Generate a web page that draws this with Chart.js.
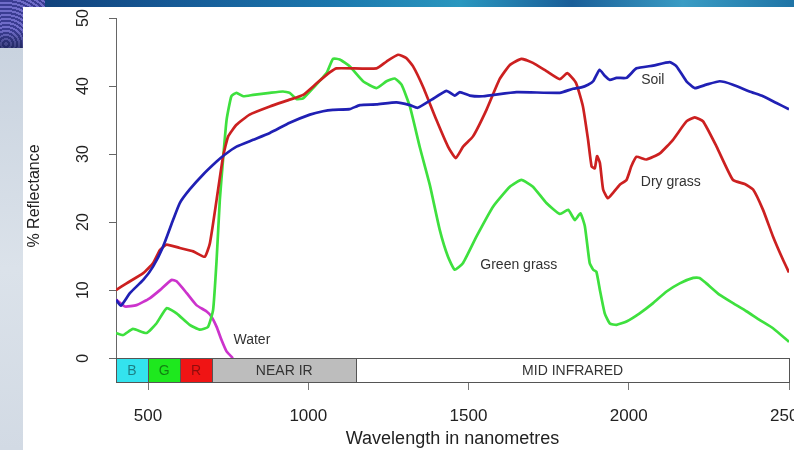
<!DOCTYPE html>
<html><head><meta charset="utf-8">
<script src="https://cdn.jsdelivr.net/npm/chart.js@4.4.1/dist/chart.umd.min.js"></script>
<style>
html,body{margin:0;padding:0;width:794px;height:450px;overflow:hidden;background:#fff;position:relative}
#topbar{position:absolute;left:0;top:0;width:794px;height:7px;background:linear-gradient(90deg,#0f3a74 0%,#165a96 22%,#1b77ad 42%,#2a97bf 58%,#1a5e98 72%,#3a9cc4 86%,#1f74a6 100%)}
#corner{position:absolute;left:0;top:0;width:45px;height:48px;background:repeating-radial-gradient(circle at 6px 44px,#6f6cc8 0 2px,#3a3c92 2px 4px),#3a3c92}
#corner2{position:absolute;left:0;top:30px;width:23px;height:18px;background:linear-gradient(180deg,rgba(20,30,70,0) 0%,rgba(20,30,70,0.6) 100%)}
#leftstrip{position:absolute;left:0;top:48px;width:23px;height:402px;background:linear-gradient(180deg,#c9d3df 0%,#dbe2ea 55%,#d2dae4 100%)}
#panel{position:absolute;left:23px;top:7px;right:0;bottom:0;background:#fff}
canvas{position:absolute;left:0;top:0}
</style></head>
<body>
<div id="topbar"></div><div id="corner"></div><div id="corner2"></div><div id="leftstrip"></div><div id="panel"></div>
<canvas id="c" width="830" height="450" style="width:830px;height:450px"></canvas>
<script>
// ---- data ----
const xTicks = [500, 1000, 1500, 2000, 2500];
const yTicks = [0, 10, 20, 30, 40, 50];

const soilWl  = [400,415,444,485,516,547,578,599,630,672,714,739,776,828,880,942,1005,1046,1077,1129,1161,1213,1275,1317,1341,1385,1431,1457,1473,1504,1545,1650,1785,1826,1852,1873,1889,1909,1925,1941,1962,1993,2024,2076,2128,2149,2180,2206,2242,2284,2325,2377,2419,2461,2500];
const soilPct = [8.6,7.7,9.6,11.5,13.5,16.4,20.3,22.8,24.8,27,28.9,29.9,31.1,32.1,33.1,34.6,35.8,36.3,36.5,36.6,37.2,37.3,37.6,37.2,36.8,38,39.3,38.6,39.1,38.6,38.5,39.1,39,39.6,39.8,40.2,40.7,42.4,41.5,40.9,41.2,41.2,42.6,43,43.5,42.9,40.7,39.7,40.2,40.7,40.2,39.2,38.5,37.5,36.6];

const dryWl  = [400,433,485,516,537,558,599,641,677,693,714,734,750,776,817,880,942,984,1026,1067,1088,1213,1244,1280,1306,1327,1358,1400,1436,1460,1483,1514,1556,1597,1629,1665,1701,1743,1785,1808,1835,1857,1873,1884,1894,1901,1910,1920,1935,1951,1972,1993,2008,2024,2055,2097,2138,2180,2206,2232,2274,2325,2362,2388,2419,2450,2481,2500];
const dryPct = [10,11,12.5,14,15.9,16.7,16.2,15.7,14.9,16.9,23.3,29.6,32.6,34.3,35.8,37,38,38.7,40.4,42,42.6,42.6,43.6,44.6,44.1,42.9,39.9,35,31.1,29.4,31.1,32.6,36.5,41,43.1,44,43.4,42.2,41,41.9,40.5,37,32.1,28.2,27.9,29.7,28.7,24.8,23.5,24.3,25.5,26.2,28.2,29.6,29.2,30.1,32.1,34.8,35.4,34.8,31.1,26.2,25.6,24.8,21.8,17.9,14.5,12.6];

const greenWl  = [400,422,453,495,526,558,589,630,661,687,703,714,724,734,745,760,776,797,828,880,921,942,963,984,1015,1057,1077,1098,1129,1171,1213,1244,1270,1291,1317,1348,1379,1410,1436,1457,1483,1525,1577,1629,1665,1701,1743,1785,1811,1832,1849,1863,1878,1889,1899,1910,1925,1941,1962,1993,2034,2076,2118,2159,2201,2221,2242,2284,2325,2367,2409,2450,2500];
const greenPct = [3.7,3.4,4.3,3.7,5.1,7.35,6.6,4.9,4.2,4.6,7.1,14.5,23.3,29.2,35,38.5,39,38.5,38.7,39,39.2,39,38.1,38.2,39.7,41.9,44,43.9,42.9,40.7,39.7,40.7,41.1,40.2,37,31,25.5,18.9,14.9,13,14,17.9,22.3,25.2,26.2,25.2,22.8,21.2,21.8,20.3,21.3,19.4,14,13,12.7,10,6.6,5.1,4.9,5.4,6.6,8.1,9.8,11,11.8,11.8,11,9.3,8.1,6.9,5.6,4.4,2.4];

const waterWl  = [400,428,464,505,537,573,589,620,651,682,698,714,729,745,765];
const waterPct = [8.6,7.6,7.8,8.8,10,11.5,11.3,9.6,7.8,6.9,6.1,4.6,2.7,1,0];

const bandNames = ['B', 'G', 'R', 'NEAR IR', 'MID INFRARED'];
const bandFrom  = [400, 500, 600, 700, 1150];
const bandTo    = [500, 600, 700, 1150, 2500];

const curveLabels = ['Soil', 'Dry grass', 'Green grass', 'Water'];
const labelWl  = [2075, 2131, 1657, 824];
const labelPct = [40.9, 25.9, 13.7, 2.7];

// ---- styles ----
const FONT = '"Liberation Sans", Arial, Helvetica, sans-serif';
const bandFill = ['#33e3ee', '#1ee81e', '#f01414', '#bdbdbd', '#ffffff'];
const bandText = ['rgba(0,0,0,0.45)', 'rgba(0,0,0,0.45)', 'rgba(0,0,0,0.4)', '#333', '#333'];

const pts = (w, p) => w.map((v, i) => ({x: v, y: p[i]}));
const ds = (label, w, p, color) => ({label, data: pts(w, p), borderColor: color, borderWidth: 2.7, pointRadius: 0, fill: false, tension: 0.15, showLine: true});

const decor = {
  id: 'decor',
  afterDatasetsDraw(chart) {
    const {ctx, scales: {x, y}} = chart;
    const top = y.getPixelForValue(0), bot = y.getPixelForValue(y.min);
    ctx.save();
    bandNames.forEach((n, i) => {
      const x0 = x.getPixelForValue(bandFrom[i]), x1 = x.getPixelForValue(bandTo[i]);
      ctx.fillStyle = bandFill[i];
      ctx.fillRect(x0, top, x1 - x0, bot - top);
      ctx.strokeStyle = '#555'; ctx.lineWidth = 1;
      ctx.strokeRect(Math.round(x0) + 0.5, Math.round(top) + 0.5, Math.round(x1) - Math.round(x0), Math.round(bot) - Math.round(top));
      ctx.fillStyle = bandText[i];
      ctx.font = '14px ' + FONT;
      ctx.textAlign = 'center'; ctx.textBaseline = 'middle';
      ctx.fillText(n, (x0 + x1) / 2, (top + bot) / 2 + 1);
    });
    // y tick labels (rotated like the original)
    ctx.fillStyle = '#222';
    ctx.font = '16px ' + FONT;
    yTicks.forEach(v => {
      const py = y.getPixelForValue(v);
      ctx.save();
      ctx.translate(84, py);
      ctx.rotate(-Math.PI / 2);
      ctx.textAlign = 'center'; ctx.textBaseline = 'middle';
      ctx.fillText(String(v), 0, 0);
      ctx.restore();
    });
    // y title
    ctx.save();
    ctx.translate(35, 196);
    ctx.rotate(-Math.PI / 2);
    ctx.textAlign = 'center'; ctx.textBaseline = 'middle';
    ctx.font = '16px ' + FONT;
    ctx.fillText('% Reflectance', 0, 0);
    ctx.restore();
    // curve labels
    ctx.fillStyle = '#333';
    ctx.font = '14px ' + FONT;
    ctx.textAlign = 'center'; ctx.textBaseline = 'middle';
    curveLabels.forEach((t, i) => {
      ctx.fillText(t, x.getPixelForValue(labelWl[i]), y.getPixelForValue(labelPct[i]));
    });
    ctx.restore();
  }
};

Chart.defaults.font.family = FONT;

new Chart(document.getElementById('c'), {
  type: 'scatter',
  data: {
    datasets: [
      ds('Soil', soilWl, soilPct, '#2020b4'),
      ds('Dry grass', dryWl, dryPct, '#cc2020'),
      ds('Green grass', greenWl, greenPct, '#3ee03e'),
      ds('Water', waterWl, waterPct, '#cc33cc')
    ]
  },
  options: {
    responsive: false,
    animation: false,
    devicePixelRatio: 1,
    layout: {padding: {left: 0, right: 41, top: 18, bottom: 0}},
    plugins: {legend: {display: false}, tooltip: {enabled: false}},
    scales: {
      x: {
        type: 'linear', min: 400, max: 2500,
        afterBuildTicks: s => { s.ticks = xTicks.map(v => ({value: v})); },
        afterFit: s => { s.height = 68; },
        grid: {display: true, drawOnChartArea: false, drawTicks: true, tickLength: 8, tickColor: '#777', color: '#777'},
        border: {display: true, color: '#555', width: 1},
        ticks: {font: {size: 17}, color: '#222', padding: 16, maxRotation: 0, autoSkip: false, callback: v => String(v)},
        title: {display: true, text: 'Wavelength in nanometres', font: {size: 18}, color: '#222', padding: {top: 0, bottom: 0}}
      },
      y: {
        type: 'linear', min: -3.5, max: 50,
        afterBuildTicks: s => { s.ticks = yTicks.map(v => ({value: v})); },
        afterFit: s => { s.width = 116; },
        grid: {display: true, drawOnChartArea: false, drawTicks: true, tickLength: 7, tickColor: '#666', color: '#666'},
        border: {display: true, color: '#666', width: 1},
        ticks: {display: false}
      }
    }
  },
  plugins: [decor]
});
</script>
</body></html>
